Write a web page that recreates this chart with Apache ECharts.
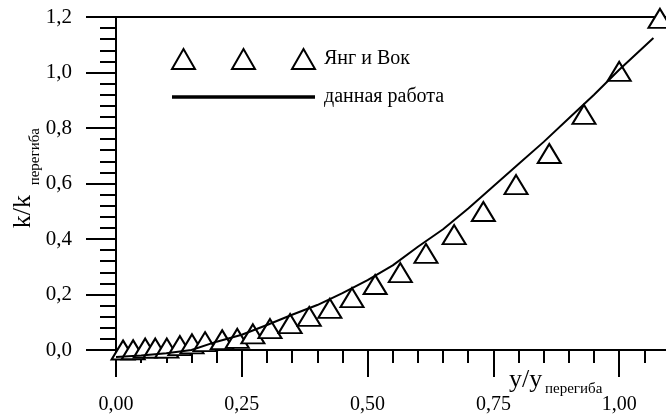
<!DOCTYPE html>
<html>
<head>
<meta charset="utf-8">
<script src="https://cdn.jsdelivr.net/npm/echarts@6/dist/echarts.min.js"></script>
<style>
  html, body { margin: 0; padding: 0; background: #fff; }
  #chart { width: 666px; height: 416px; }
</style>
</head>
<body>
<div id="chart"></div>
<script>
// Янг и Вок (triangles)
var expX = [0.014, 0.034, 0.058, 0.078, 0.101, 0.127, 0.151, 0.177, 0.211, 0.241,
            0.272, 0.306, 0.346, 0.384, 0.425, 0.469, 0.515, 0.565, 0.616, 0.672,
            0.730, 0.795, 0.861, 0.930, 1.000, 1.081];
var expY = [0.000, 0.001, 0.007, 0.007, 0.007, 0.016, 0.022, 0.030, 0.037, 0.042,
            0.058, 0.077, 0.095, 0.121, 0.150, 0.189, 0.236, 0.279, 0.348, 0.416,
            0.499, 0.596, 0.708, 0.849, 1.004, 1.195];
// данная работа (line)
var calcX = [0.00, 0.05, 0.10, 0.15, 0.20, 0.25, 0.30, 0.35, 0.40, 0.45, 0.50,
             0.55, 0.60, 0.65, 0.70, 0.75, 0.80, 0.85, 0.90, 0.95, 1.00, 1.068];
var calcY = [-0.025, -0.02, -0.012, 0.0, 0.03, 0.055, 0.09, 0.127, 0.162, 0.205, 0.252,
             0.305, 0.372, 0.435, 0.51, 0.59, 0.67, 0.75, 0.835, 0.92, 1.01, 1.124];

var xTicks = [0, 0.25, 0.5, 0.75, 1.0];
var yTicks = [0, 0.2, 0.4, 0.6, 0.8, 1.0, 1.2];

var font = 'Liberation Serif';

function zip(a, b) {
  var out = [];
  for (var i = 0; i < a.length; i++) out.push([a[i], b[i]]);
  return out;
}

var chart = echarts.init(document.getElementById('chart'), null, { renderer: 'canvas' });

var option = {
  backgroundColor: '#fff',
  animation: false,
  textStyle: { fontFamily: font },
  // plot runs past the right edge of the picture, like the original
  grid: { left: 116, width: 629, top: 17, height: 333, containLabel: false, outerBoundsMode: 'none' },
  legend: {
    orient: 'vertical',
    left: 166,
    top: 43,
    itemWidth: 143,
    itemHeight: 20,
    itemGap: 17,
    textStyle: { fontFamily: font, fontSize: 20, color: '#000', padding: [0, 0, 0, 4] },
    data: [
      { name: 'Янг и Вок',
        icon: 'path://M0,20L11.5,0L23,20Z M60,20L71.5,0L83,20Z M120,20L131.5,0L143,20Z' },
      { name: 'данная работа', icon: 'path://M0,0L40,0L40,1L0,1Z' }
    ]
  },
  xAxis: [{
    type: 'value',
    min: 0,
    max: 1.25,
    interval: 0.25,
    axisLine: { lineStyle: { color: '#000', width: 2 } },
    axisTick: { length: 27, lineStyle: { color: '#000', width: 2 } },
    minorTick: { show: true, splitNumber: 5, length: 13, lineStyle: { color: '#000', width: 2 } },
    splitLine: { show: false },
    axisLabel: {
      margin: 45,
      fontFamily: font,
      fontSize: 20,
      color: '#000',
      formatter: function (v) {
        return xTicks.indexOf(Math.round(v * 100) / 100) >= 0 ? v.toFixed(2).replace('.', ',') : '';
      }
    }
  }, {
    type: 'value',
    position: 'top',
    min: 0,
    max: 1.25,
    axisLine: { show: true, lineStyle: { color: '#000', width: 2 } },
    axisTick: { show: false },
    axisLabel: { show: false },
    splitLine: { show: false }
  }],
  yAxis: {
    type: 'value',
    min: 0,
    max: 1.2,
    interval: 0.2,
    axisLine: { lineStyle: { color: '#000', width: 2 } },
    axisTick: { length: 30, lineStyle: { color: '#000', width: 2 } },
    minorTick: { show: true, splitNumber: 5, length: 16, lineStyle: { color: '#000', width: 2 } },
    splitLine: { show: false },
    axisLabel: {
      margin: 44,
      fontFamily: font,
      fontSize: 21,
      color: '#000',
      formatter: function (v) {
        return yTicks.indexOf(Math.round(v * 10) / 10) >= 0 ? v.toFixed(1).replace('.', ',') : '';
      }
    }
  },
  series: [{
    name: 'Янг и Вок',
    type: 'scatter',
    clip: false,
    symbol: 'triangle',
    symbolSize: [23, 19],
    itemStyle: { color: '#fff', borderColor: '#000', borderWidth: 2, opacity: 1 },
    data: zip(expX, expY)
  }, {
    name: 'данная работа',
    type: 'line',
    clip: false,
    symbol: 'none',
    smooth: false,
    lineStyle: { color: '#000', width: 2 },
    itemStyle: { color: '#000' },
    data: zip(calcX, calcY)
  }],
  graphic: [
    { type: 'text', left: 10, top: 195, rotation: Math.PI / 2,
      style: { text: 'k/k', fontFamily: font, fontSize: 26, fill: '#000' } },
    { type: 'text', left: 28, top: 128, rotation: Math.PI / 2,
      style: { text: 'перегиба', fontFamily: font, fontSize: 15, fill: '#000' } },
    { type: 'text', left: 509, top: 367,
      style: { text: 'y/y', fontFamily: font, fontSize: 26, fill: '#000' } },
    { type: 'text', left: 545, top: 382,
      style: { text: 'перегиба', fontFamily: font, fontSize: 15, fill: '#000' } }
  ]
};

chart.setOption(option);
</script>
</body>
</html>
